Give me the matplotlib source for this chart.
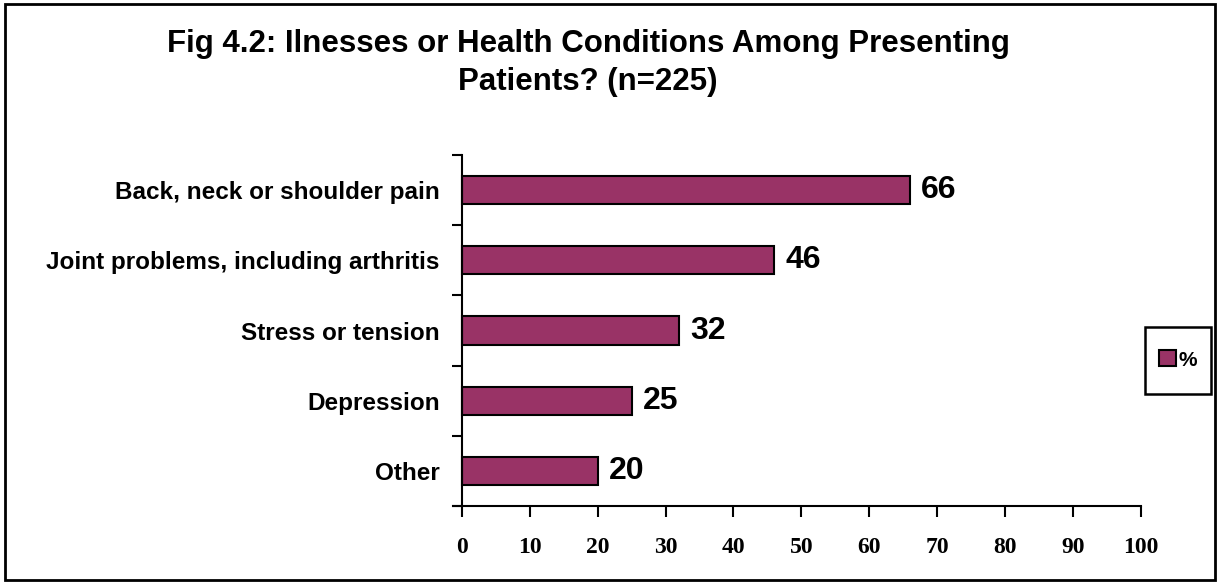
import matplotlib
matplotlib.use("Agg")
import matplotlib.pyplot as plt
from matplotlib.patches import Rectangle, Patch

categories = ["Back, neck or shoulder pain", "Joint problems, including arthritis",
              "Stress or tension", "Depression", "Other"]
values = [66, 46, 32, 25, 20]
xticks = [0, 10, 20, 30, 40, 50, 60, 70, 80, 90, 100]
title = "Fig 4.2: Ilnesses or Health Conditions Among Presenting\nPatients? (n=225)"
legend_label = "%"
bar_color = "#993366"

x_left_pad = 1.3
fig = plt.figure(figsize=(12.2, 5.82), dpi=100)
ax = fig.add_axes([453/1220, 1-506/582, (1141-453)/1220, (506-155)/582])

n = len(categories)
ypos = list(range(n))[::-1]
ax.barh(ypos, values, height=0.4, color=bar_color, edgecolor="black", linewidth=1.5)
ax.set_ylim(-0.5, n - 0.5)
ax.set_xlim(-x_left_pad, 100)
ax.spines["left"].set_position(("data", 0))

for y, v in zip(ypos, values):
    ax.text(v + 1.6, y, str(v), va="center", ha="left", fontsize=23, fontweight="bold",
            family="Liberation Sans")

ax.set_yticks(ypos)
ax.set_yticklabels(categories, fontsize=17.5, fontweight="bold", family="Liberation Sans")
ax.tick_params(axis="y", which="major", length=0, pad=16)
ax.set_yticks([i + 0.5 for i in range(-1, n)], minor=True)
ax.tick_params(axis="y", which="minor", length=7, width=1.5, direction="out")

ax.set_xticks(xticks)
ax.set_xticklabels([str(t) for t in xticks], fontsize=17, fontweight="bold", family="Liberation Serif")
ax.tick_params(axis="x", length=8, width=1.5, direction="out", pad=14)

for s in ["top", "right"]:
    ax.spines[s].set_visible(False)
for s in ["left", "bottom"]:
    ax.spines[s].set_linewidth(1.5)

fig.text(588/1220, 1 - 63/582, title, ha="center", va="center", fontsize=22.5, fontweight="bold",
         family="Liberation Sans", linespacing=1.38)

# legend box and entry
fig.patches.append(Rectangle((1145/1220, 1 - 394/582), 66/1220, 67/582, transform=fig.transFigure,
                             fill=False, edgecolor="black", linewidth=1.8))
leg = fig.legend(handles=[Patch(facecolor=bar_color, edgecolor="black", linewidth=1.5, label=legend_label)],
                 loc="center", bbox_to_anchor=(1178/1220, 1 - 360/582), frameon=False,
                 prop={"family": "Liberation Sans", "weight": "bold", "size": 15},
                 handlelength=0.8, handleheight=0.8, handletextpad=0.15, borderpad=0.2)

# outer border
fig.patches.append(Rectangle((5/1220, 2/582), 1 - 10/1220, 1 - 6/582, transform=fig.transFigure,
                             fill=False, edgecolor="black", linewidth=2))

fig.savefig("out.png", dpi=100)
